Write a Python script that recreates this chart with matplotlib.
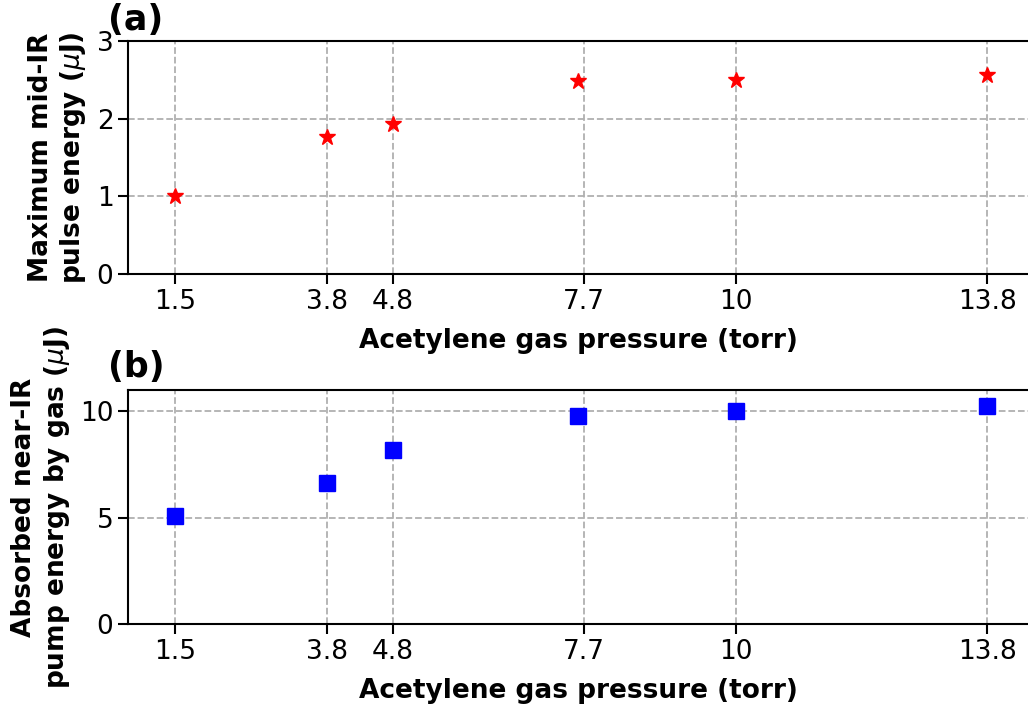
import numpy as np
import matplotlib.pyplot as plt

pressure = [1.5, 3.8, 4.8, 7.6, 10, 13.8]
tick_pos = [1.5, 3.8, 4.8, 7.7, 10, 13.8]
tick_labels = ['1.5', '3.8', '4.8', '7.7', '10', '13.8']
midir_energy = [1.0, 1.77, 1.93, 2.48, 2.50, 2.56]
absorbed_energy = [5.06, 6.62, 8.18, 9.8, 10.02, 10.24]


def main():
    fig = plt.figure(figsize=(10.28, 7.07), dpi=100)
    ax1 = fig.add_axes([128 / 1028, 1 - 274 / 707, 900 / 1028, 233 / 707])
    ax2 = fig.add_axes([128 / 1028, 1 - 624 / 707, 900 / 1028, 234 / 707])

    ax1.plot(pressure, midir_energy, 'r*', markersize=12, zorder=3)
    ax1.set_ylim(0, 3)
    ax1.set_yticks([0, 1, 2, 3])
    ax1.set_ylabel('Maximum mid-IR\npulse energy ($\\mu$J)', fontsize=19, fontweight='bold',
                   labelpad=6)

    ax2.plot(pressure, absorbed_energy, 'bs', markersize=12, zorder=3)
    ax2.set_ylim(0, 11)
    ax2.set_yticks([0, 5, 10])
    ax2.set_ylabel('Absorbed near-IR\npump energy by gas ($\\mu$J)', fontsize=19, fontweight='bold',
                   labelpad=6)

    for ax in (ax1, ax2):
        ax.set_xlim(0.79, 14.42)
        ax.set_xticks(tick_pos)
        ax.set_xticklabels(tick_labels)
        ax.tick_params(labelsize=19, width=1.5, length=7)
        ax.set_xlabel('Acetylene gas pressure (torr)', fontsize=19, fontweight='bold', labelpad=10)
        ax.grid(True, linestyle='--', color='#b0b0b0', linewidth=1.3)
        for sp in ax.spines.values():
            sp.set_linewidth(1.5)
        ax.spines['right'].set_visible(False)

    fig.text(108 / 1028, 1 - 20 / 707, '(a)', fontsize=25, fontweight='bold', va='center')
    fig.text(108 / 1028, 1 - 367 / 707, '(b)', fontsize=25, fontweight='bold', va='center')

    fig.savefig('out.png', dpi=100)


if __name__ == "__main__":
    main()
